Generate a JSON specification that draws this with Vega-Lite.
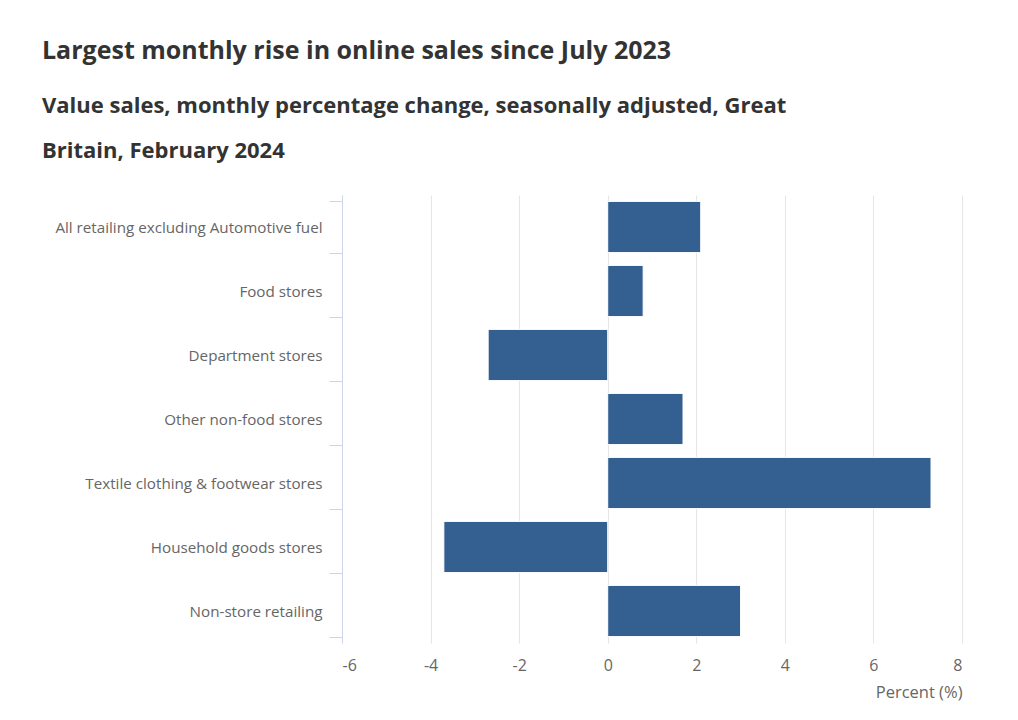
{
  "$schema": "https://vega.github.io/schema/vega-lite/v6.json",
  "autosize": "none",
  "width": 620,
  "height": 448,
  "padding": {"left": 342, "top": 195, "right": 56, "bottom": 77},
  "background": "white",
  "config": {"font": "Open Sans", "view": {"stroke": null}},
  "title": {
    "text": "Largest monthly rise in online sales since July 2023",
    "subtitle": ["Value sales, monthly percentage change, seasonally adjusted, Great", "Britain, February 2024"],
    "anchor": "start",
    "frame": "group",
    "dx": -300,
    "offset": 26,
    "font": "Open Sans",
    "fontSize": 25,
    "fontWeight": "bold",
    "color": "#333333",
    "subtitleFont": "Open Sans",
    "subtitleFontSize": 22,
    "subtitleFontWeight": "bold",
    "subtitleColor": "#333333",
    "subtitleLineHeight": 45,
    "subtitlePadding": 32
  },
  "data": {
    "values": [
      {"category": "All retailing excluding Automotive fuel", "value": 2.1},
      {"category": "Food stores", "value": 0.8},
      {"category": "Department stores", "value": -2.7},
      {"category": "Other non-food stores", "value": 1.7},
      {"category": "Textile clothing & footwear stores", "value": 7.3},
      {"category": "Household goods stores", "value": -3.7},
      {"category": "Non-store retailing", "value": 3.0}
    ]
  },
  "mark": {"type": "bar", "color": "#335f91", "stroke": "white", "strokeWidth": 1},
  "encoding": {
    "y": {
      "field": "category",
      "type": "nominal",
      "sort": null,
      "scale": {"paddingInner": 0.2, "paddingOuter": 0.1},
      "axis": {
        "title": null,
        "tickBand": "extent",
        "domainColor": "#ccd6eb",
        "tickColor": "#ccd6eb",
        "tickSize": 13,
        "labelPadding": 7,
        "labelFontSize": 15.2,
        "labelColor": "#666666",
        "labelFont": "Open Sans",
        "grid": false,
        "labelLimit": 400
      }
    },
    "x": {
      "field": "value",
      "type": "quantitative",
      "scale": {"domain": [-6, 8], "nice": false},
      "axis": {
        "values": [-6, -4, -2, 0, 2, 4, 6, 8],
        "labelExpr": "'' + datum.value",
        "title": "Percent (%)",
        "titleAnchor": "end",
        "titleFontWeight": "normal",
        "titleFontSize": 16.5,
        "titleColor": "#666666",
        "titleFont": "Open Sans",
        "titlePadding": 11,
        "domain": false,
        "ticks": false,
        "labelPadding": 14,
        "labelFontSize": 16,
        "labelColor": "#666666",
        "labelFont": "Open Sans",
        "gridColor": "#e6e6e6",
        "gridWidth": 1
      }
    }
  }
}
